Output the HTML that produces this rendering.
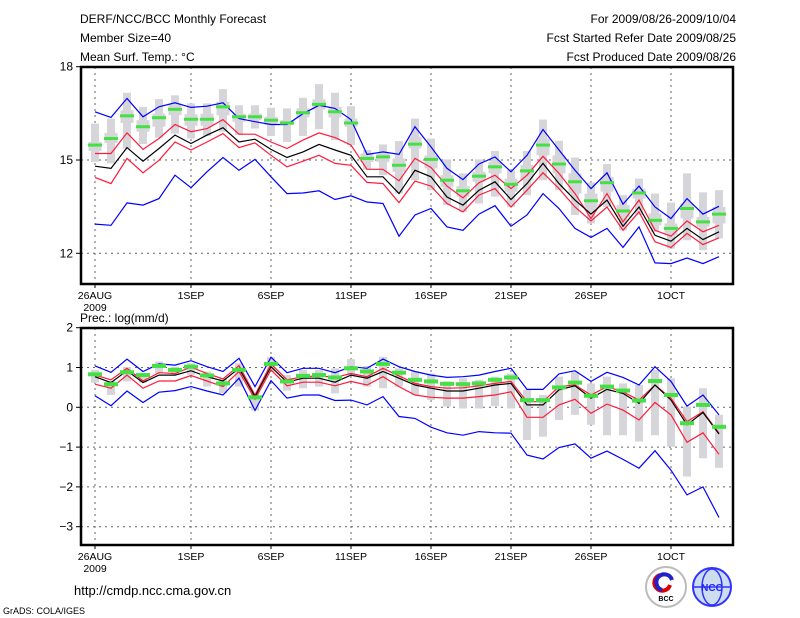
<!DOCTYPE html>
<html><head><meta charset="utf-8">
<style>
html,body{margin:0;padding:0;background:#fff;}
svg{display:block;font-family:"Liberation Sans",sans-serif;}
</style></head>
<body>
<svg id="chart" width="800" height="618" viewBox="0 0 800 618" xmlns="http://www.w3.org/2000/svg">
<g font-size="12" fill="#000">
<text x="80" y="23">DERF/NCC/BCC Monthly Forecast</text>
<text x="80" y="42">Member Size=40</text>
<text x="80" y="61">Mean Surf. Temp.: °C</text>
<text x="736" y="23" text-anchor="end">For 2009/08/26-2009/10/04</text>
<text x="736" y="42" text-anchor="end">Fcst Started Refer Date 2009/08/25</text>
<text x="736" y="61" text-anchor="end">Fcst Produced Date 2009/08/26</text>
</g>
<text x="80" y="322" font-size="12">Prec.: log(mm/d)</text>
<g id="top"></g>
<g id="bot"></g>
<text x="74" y="595" font-size="13">http://cmdp.ncc.cma.gov.cn</text>
<text x="3" y="614" font-size="9">GrADS: COLA/IGES</text>
<g>
<circle cx="666" cy="587" r="20" fill="#fff" stroke="#bbb" stroke-width="2"/>
<path d="M660 575 a8 8 0 1 0 10 10" stroke="#d00" stroke-width="4" fill="none"/>
<path d="M672 580 a8 8 0 1 0 -10 10" stroke="#22c" stroke-width="4" fill="none"/>
<text x="666" y="601" font-size="7" text-anchor="middle" font-weight="bold">BCC</text>
</g>
<g>
<circle cx="712" cy="587" r="19" fill="#cde" stroke="#33f" stroke-width="2"/>
<ellipse cx="712" cy="587" rx="10" ry="18" fill="none" stroke="#33f" stroke-width="1.5"/>
<line x1="694" y1="587" x2="730" y2="587" stroke="#33f" stroke-width="1.5"/>
<text x="712" y="591" font-size="10" text-anchor="middle" fill="#22f" font-weight="bold">NCC</text>
</g>
</svg>
<script>
// ---- Data ----
const tickDays = [0,6,11,16,21,26,31,36];
const tickLabels = ['26AUG','1SEP','6SEP','11SEP','16SEP','21SEP','26SEP','1OCT'];
const topYTicks = [18,15,12];
const botYTicks = [2,1,0,-1,-2,-3];

const tBlueHi = [16.55,16.37,16.98,16.39,16.71,16.84,16.69,16.73,16.84,16.33,16.23,16.14,16.14,16.49,16.76,16.66,16.30,15.18,15.26,15.18,16.07,15.42,14.73,14.37,14.87,15.10,14.62,15.15,15.98,15.32,14.67,14.08,14.59,13.58,14.16,13.49,13.12,13.76,13.26,13.51];
const tRedHi = [15.21,15.21,15.87,15.34,15.69,16.14,15.91,16.01,16.30,15.83,15.83,15.58,15.37,15.64,15.87,15.72,15.48,14.70,14.70,14.33,15.05,14.76,14.16,13.78,14.27,14.51,14.08,14.51,15.12,14.57,13.92,13.12,13.92,13.01,13.71,12.74,12.55,13.04,12.69,12.90];
const tMean = [14.80,14.73,15.40,14.96,15.37,15.80,15.53,15.80,16.04,15.58,15.67,15.34,15.08,15.26,15.50,15.32,15.15,14.46,14.46,13.92,14.67,14.46,13.81,13.55,14.03,14.30,13.73,14.24,14.89,14.24,13.71,13.26,13.71,12.87,13.49,12.58,12.39,12.80,12.44,12.69];
const tRedLo = [14.44,14.24,15.05,14.59,14.99,15.58,15.32,15.58,15.85,15.40,15.55,15.15,14.78,14.96,15.15,14.89,14.83,14.28,14.24,13.63,14.32,14.16,13.60,13.33,13.87,14.08,13.49,14.03,14.59,14.08,13.49,13.04,13.49,12.74,13.33,12.37,12.19,12.64,12.28,12.50];
const tBlueLo = [12.94,12.90,13.62,13.55,13.76,14.51,14.11,14.62,15.08,14.67,15.02,14.46,13.92,13.94,14.01,13.73,13.85,13.65,13.60,12.55,13.23,13.44,12.85,12.74,13.26,13.53,12.87,13.23,13.92,13.44,12.80,12.51,12.80,12.19,12.85,11.69,11.67,11.85,11.67,11.89];
const tGreen = [15.48,15.69,16.42,16.07,16.36,16.63,16.31,16.31,16.71,16.39,16.39,16.28,16.19,16.52,16.79,16.55,16.19,15.05,15.10,14.83,15.51,15.02,14.35,14.01,14.48,14.78,14.22,14.65,15.48,14.87,14.30,13.69,14.27,13.36,13.94,13.06,12.80,13.44,13.01,13.26];
const tWhiskHi = [16.17,16.33,17.16,16.71,16.96,17.08,16.82,16.82,17.28,16.76,16.76,16.68,16.66,17.00,17.44,17.16,16.73,15.32,15.50,15.61,16.33,15.69,15.02,14.57,15.02,15.29,14.67,15.29,16.30,15.62,15.08,14.28,14.87,13.87,14.40,13.92,13.63,14.57,13.96,14.03];
const tBoxHi = [15.58,15.87,16.60,16.28,16.49,16.82,16.47,16.49,16.87,16.49,16.49,16.39,16.28,16.66,16.95,16.71,16.33,15.21,15.21,15.05,15.75,15.15,14.51,14.16,14.62,14.94,14.40,14.84,15.69,15.15,14.57,13.92,14.46,13.55,14.08,13.28,12.96,13.60,13.17,13.49];
const tBoxLo = [15.29,15.55,16.19,15.91,16.07,16.44,16.10,16.10,16.44,16.23,16.28,16.12,16.12,16.37,16.62,16.37,16.07,14.94,14.94,14.62,15.37,14.73,14.14,13.82,14.30,14.57,13.98,14.35,15.15,14.57,13.92,13.44,13.98,13.17,13.76,12.90,12.58,13.12,12.85,12.96];
const tWhiskLo = [14.94,14.89,15.37,15.51,15.72,15.85,15.69,15.77,15.91,15.80,16.01,15.77,15.58,15.77,15.99,15.64,15.48,14.69,14.51,13.92,14.35,14.03,13.55,13.33,13.60,13.82,13.49,13.87,14.35,14.03,13.23,12.96,13.49,12.74,13.23,12.69,12.15,12.42,12.10,12.48];

const pBlueHi = [1.04,0.88,1.21,0.90,1.09,1.06,1.17,1.02,0.90,1.23,0.52,1.26,0.87,0.98,0.98,0.87,1.02,0.98,1.21,1.02,0.90,0.81,0.75,0.77,0.81,0.90,0.98,0.45,0.45,0.84,0.92,0.65,0.88,0.75,0.56,1.02,0.65,0.03,0.31,-0.19];
const pRedHi = [0.81,0.69,0.98,0.66,0.87,0.85,1.01,0.85,0.71,1.05,0.31,1.09,0.69,0.77,0.79,0.75,0.85,0.77,0.98,0.79,0.60,0.52,0.48,0.49,0.54,0.60,0.65,0.14,0.14,0.52,0.56,0.31,0.52,0.39,0.18,0.56,0.23,-0.36,-0.11,-0.65];
const pMean = [0.77,0.62,0.92,0.62,0.81,0.81,0.92,0.77,0.66,0.98,0.27,1.02,0.63,0.73,0.73,0.63,0.81,0.73,0.90,0.73,0.56,0.48,0.41,0.41,0.48,0.56,0.60,0.06,0.06,0.44,0.54,0.23,0.45,0.35,0.10,0.56,0.18,-0.44,-0.13,-0.67];
const pRedLo = [0.58,0.48,0.81,0.48,0.66,0.66,0.80,0.66,0.52,0.90,0.20,0.94,0.54,0.63,0.63,0.54,0.65,0.56,0.77,0.52,0.31,0.25,0.23,0.23,0.27,0.31,0.39,-0.25,-0.25,0.06,0.20,-0.15,0.08,-0.07,-0.32,0.12,-0.19,-0.88,-0.64,-1.18];
const pBlueLo = [0.29,0.04,0.41,0.12,0.38,0.42,0.52,0.41,0.31,0.73,-0.08,0.67,0.23,0.31,0.31,0.17,0.18,0.06,0.27,-0.23,-0.28,-0.50,-0.64,-0.70,-0.61,-0.64,-0.65,-1.20,-1.30,-1.01,-0.92,-1.28,-1.10,-1.31,-1.53,-1.09,-1.58,-2.20,-2.00,-2.77];
const pGreen = [0.83,0.58,0.88,0.81,1.04,0.94,1.02,0.80,0.60,0.94,0.25,1.09,0.65,0.79,0.81,0.75,0.98,0.90,1.09,0.87,0.69,0.65,0.59,0.58,0.60,0.69,0.75,0.18,0.18,0.50,0.62,0.29,0.52,0.42,0.17,0.66,0.31,-0.40,0.06,-0.49];
const pBarHi = [0.94,0.66,1.01,0.85,1.15,1.02,1.11,0.90,0.73,1.11,0.35,1.26,0.81,0.94,0.94,0.98,1.21,1.04,1.27,0.98,0.90,0.85,0.65,0.73,0.69,0.77,0.85,0.44,0.31,0.77,0.90,0.60,0.77,0.60,0.56,0.94,0.73,0.02,0.48,-0.19];
const pBarLo = [0.62,0.31,0.65,0.62,0.85,0.81,0.81,0.52,0.35,0.52,-0.08,0.90,0.42,0.48,0.52,0.35,0.81,0.52,0.48,0.52,0.31,0.18,0.02,-0.03,-0.03,0.03,-0.03,-0.82,-0.74,-0.32,-0.19,-0.44,-0.70,-0.70,-0.86,-0.70,-0.99,-1.74,-1.28,-1.52];

// ---- Axes ----
const NS = 'http://www.w3.org/2000/svg';
const X0 = 81, X1 = 733;
const xOf = i => 95 + 16 * i;
const topAxis = {g: document.getElementById('top'), y0: 67, y1: 284, yOf: v => 66.7 + (18 - v) * 31.1, yt: topYTicks};
const botAxis = {g: document.getElementById('bot'), y0: 328, y1: 545, yOf: v => 327.7 + (2 - v) * 39.8, yt: botYTicks};

function mk(tag, attrs, parent) {
  const e = document.createElementNS(NS, tag);
  for (const k in attrs) e.setAttribute(k, attrs[k]);
  parent.appendChild(e);
  return e;
}

function drawFrame(ax, prefix) {
  for (const v of ax.yt) {
    const y = ax.yOf(v);
    if (y > ax.y0 + 2 && y < ax.y1 - 2) {
      const gl = mk('line', {x1: X0, x2: X1, y1: y, y2: y, stroke: '#666', 'stroke-width': 1, 'stroke-dasharray': '2,4'}, ax.g);
      
      
    }
    const tk = mk('line', {x1: X0 - 5, x2: X0, y1: y, y2: y, stroke: '#000'}, ax.g);
    
    
    const t = mk('text', {x: X0 - 8, y: y + 4, 'font-size': 12, 'text-anchor': 'end'}, ax.g);
    t.textContent = (v < 0 ? '\u2212' + (-v) : '' + v);
    
    
  }
  tickDays.forEach((d, k) => {
    const x = xOf(d);
    const gl = mk('line', {x1: x, x2: x, y1: ax.y0, y2: ax.y1, stroke: '#666', 'stroke-width': 1, 'stroke-dasharray': '2,4'}, ax.g);
    
    
    const tk = mk('line', {x1: x, x2: x, y1: ax.y1, y2: ax.y1 + 4, stroke: '#000'}, ax.g);
    
    
    const t = mk('text', {x: x, y: ax.y1 + 15, 'font-size': 10.5, 'text-anchor': 'middle'}, ax.g);
    t.textContent = tickLabels[k];
    
    
  });
  const yr = mk('text', {x: xOf(0), y: ax.y1 + 27, 'font-size': 10.5, 'text-anchor': 'middle'}, ax.g);
  yr.textContent = '2009';
  
  
}

function drawBoxes(ax, prefix, wHi, bHi, bLo, wLo) {
  for (let i = 0; i < wHi.length; i++) {
    const x = xOf(i);
    const w = mk('rect', {x: x - 4, y: ax.yOf(wHi[i]), width: 8, height: ax.yOf(wLo[i]) - ax.yOf(wHi[i]), fill: '#d6d6da'}, ax.g);
    
    
    if (bHi) {
      const b = mk('rect', {x: x - 6.5, y: ax.yOf(bHi[i]), width: 13, height: ax.yOf(bLo[i]) - ax.yOf(bHi[i]), fill: '#d6d6da'}, ax.g);
      
      
    }
  }
}

function drawLine(ax, prefix, name, vals, color) {
  const pts = vals.map((v, i) => xOf(i) + ',' + ax.yOf(v).toFixed(1)).join(' ');
  const p = mk('polyline', {points: pts, fill: 'none', stroke: color, 'stroke-width': 1.2}, ax.g);
  
  
}

function drawDashes(ax, prefix, vals, w, h) {
  vals.forEach((v, i) => {
    const r = mk('rect', {x: xOf(i) - w / 2, y: ax.yOf(v) - h / 2, width: w, height: h, fill: '#44e044'}, ax.g);
    
    
  });
}

function drawBorder(ax, prefix) {
  const r = mk('rect', {x: X0, y: ax.y0, width: X1 - X0, height: ax.y1 - ax.y0, fill: 'none', stroke: '#000', 'stroke-width': 2.5}, ax.g);
  
  
}

// Top panel
drawFrame(topAxis, 'temp');
drawBoxes(topAxis, 'temp', tWhiskHi, tBoxHi, tBoxLo, tWhiskLo);
drawLine(topAxis, 'temp', 'upper-bound-line', tBlueHi, '#0000ff');
drawLine(topAxis, 'temp', 'lower-bound-line', tBlueLo, '#0000ff');
drawLine(topAxis, 'temp', 'upper-std-line', tRedHi, '#ff1a3a');
drawLine(topAxis, 'temp', 'lower-std-line', tRedLo, '#ff1a3a');
drawLine(topAxis, 'temp', 'mean-line', tMean, '#000000');
drawDashes(topAxis, 'temp', tGreen, 14, 3);
drawBorder(topAxis, 'temp');

// Bottom panel
drawFrame(botAxis, 'prec');
drawBoxes(botAxis, 'prec', pBarHi, null, null, pBarLo);
drawLine(botAxis, 'prec', 'upper-bound-line', pBlueHi, '#0000ff');
drawLine(botAxis, 'prec', 'lower-bound-line', pBlueLo, '#0000ff');
drawLine(botAxis, 'prec', 'upper-std-line', pRedHi, '#ff1a3a');
drawLine(botAxis, 'prec', 'lower-std-line', pRedLo, '#ff1a3a');
drawLine(botAxis, 'prec', 'mean-line', pMean, '#000000');
drawDashes(botAxis, 'prec', pGreen, 14, 4);
drawBorder(botAxis, 'prec');
</script>
</body></html>
